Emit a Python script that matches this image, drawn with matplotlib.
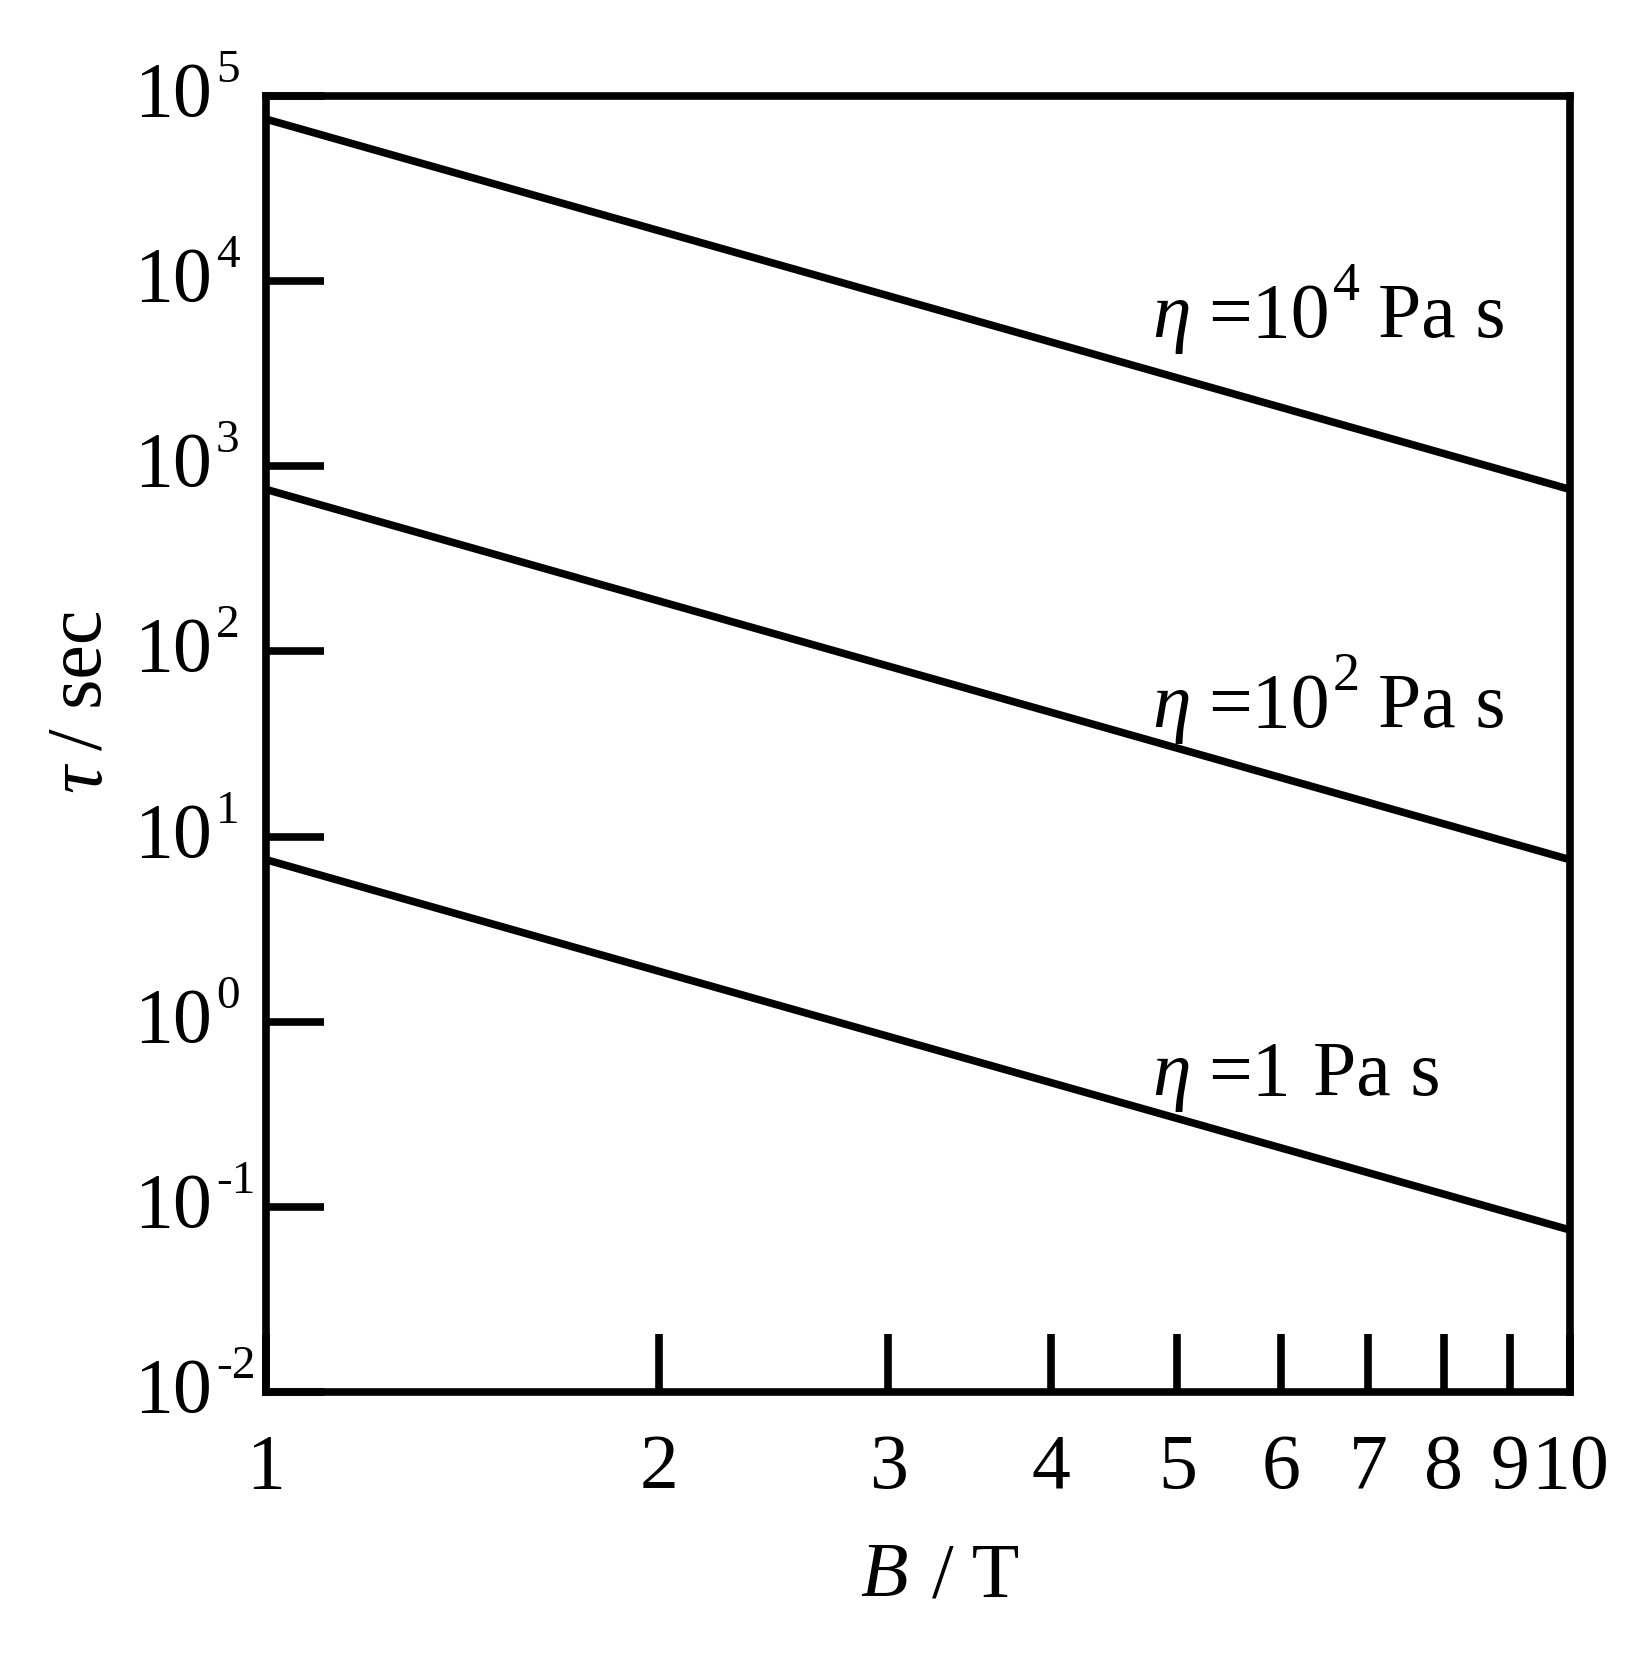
import matplotlib.pyplot as plt
import matplotlib.ticker as ticker

plt.rcParams['font.family'] = ['Liberation Serif', 'DejaVu Serif']

W, H = 1627, 1662

# end points of each line (straight in log-log)
B = [1, 10]
tau_1e4 = [7.5e4, 7.5e2]
tau_1e2 = [7.5e2, 7.5]
tau_1 = [7.5, 7.5e-2]

x_ticks = [1, 2, 3, 4, 5, 6, 7, 8, 9, 10]
y_ticks = [1e-2, 1e-1, 1e0, 1e1, 1e2, 1e3, 1e4, 1e5]
y_exps = ['-2', '-1', '0', '1', '2', '3', '4', '5']

# curve labels: eta value exponent (None -> "1"), anchor in data coords
label_exp = ['4', '2', None]
label_x = [4.78, 4.78, 4.78]
label_y = [10**3.698, 10**1.592, 10**-0.396]

FS = 56
FS_TICK_SUP = 34
FS_LAB_SUP = 39
LW = 5.5

fig = plt.figure(figsize=(W / 100, H / 100), dpi=100)
ax = fig.add_axes([266 / W, 1 - 1392 / H, (1570 - 266) / W, (1392 - 96) / H])
renderer = fig.canvas.get_renderer()

for t in [tau_1e4, tau_1e2, tau_1]:
    ax.plot(B, t, color='black', lw=LW, solid_capstyle='butt')

ax.set_xscale('log')
ax.set_yscale('log')
ax.set_xlim(1, 10)
ax.set_ylim(1e-2, 1e5)

ax.xaxis.set_major_locator(ticker.FixedLocator(x_ticks))
ax.xaxis.set_minor_locator(ticker.NullLocator())
ax.yaxis.set_major_locator(ticker.FixedLocator(y_ticks))
ax.yaxis.set_minor_locator(ticker.NullLocator())
ax.tick_params(axis='both', direction='in', length=42, width=LW,
               labelbottom=False, labelleft=False, top=False, right=False)
for s in ax.spines.values():
    s.set_linewidth(LW)


def put(txt, xy, trans, dx, dy, size=FS, style='normal', ha='left'):
    # place text with pixel offset; return pixel width of the text
    t = ax.annotate(txt, xy=xy, xycoords=trans, xytext=(dx, dy),
                    textcoords='offset pixels', fontsize=size, fontstyle=style,
                    va='baseline', ha=ha, annotation_clip=False)
    return t.get_window_extent(renderer).width


# y tick labels: "10" plus a raised exponent
ytr = ax.get_yaxis_transform()
for v, e in zip(y_ticks, y_exps):
    w = put('10', (0, v), ytr, -132, -20)
    put(e, (0, v), ytr, -132 + w + 4, 14, size=FS_TICK_SUP)

# x tick labels
xtr = ax.get_xaxis_transform()
for v in x_ticks:
    put(str(v), (v, 0), xtr, 0, -96, ha='center')

# curve labels
for e, lx, ly in zip(label_exp, label_x, label_y):
    put('\u03b7', (lx, ly), 'data', 0, 0, style='italic')
    if e is None:
        w = put('=1', (lx, ly), 'data', 56, 0)
        put('Pa s', (lx, ly), 'data', 56 + w + 22, 0)
    else:
        w = put('=10', (lx, ly), 'data', 56, 0)
        x0 = 56 + w + 3
        w2 = put(e, (lx, ly), 'data', x0, 37, size=FS_LAB_SUP)
        put('Pa s', (lx, ly), 'data', x0 + w2 + 18, 0)

# axis titles
fig.text(860 / W, 1 - 1596 / H, 'B', fontsize=FS, fontstyle='italic',
         ha='left', va='baseline')
fig.text(932 / W, 1 - 1596 / H, '/ T', fontsize=FS, ha='left', va='baseline')
fig.text(100 / W, 1 - 792 / H, '\u03c4', fontsize=FS, fontstyle='italic',
         rotation=90, rotation_mode='anchor', ha='left', va='baseline')
fig.text(100 / W, 1 - 750 / H, '/ sec', fontsize=FS,
         rotation=90, rotation_mode='anchor', ha='left', va='baseline')

fig.savefig('out.png', dpi=100)
